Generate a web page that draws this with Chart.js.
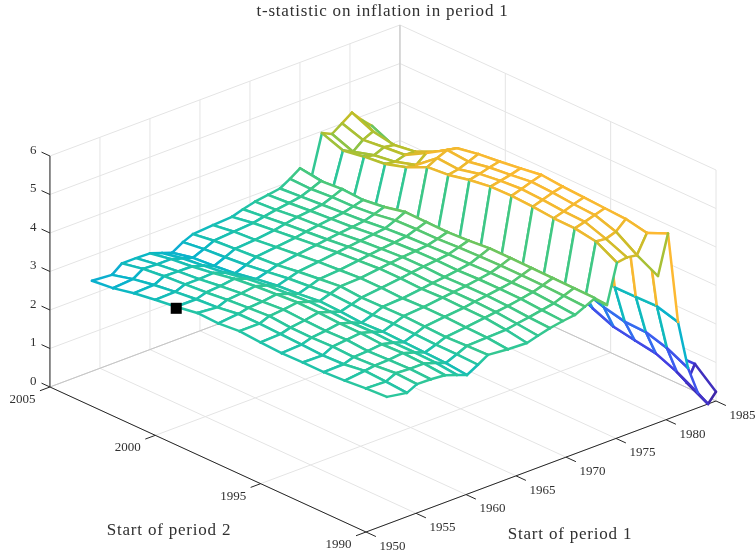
<!DOCTYPE html>
<html>
<head>
<meta charset="utf-8">
<title>t-statistic on inflation in period 1</title>
<script src="https://cdn.jsdelivr.net/npm/chart.js@4"></script>
<style>
  html, body { margin: 0; padding: 0; background: #fff; }
  canvas { display: block; }
</style>
</head>
<body>
<canvas id="chart" width="756" height="552"></canvas>
<script>
// start of period 1 for each mesh row (rows are not evenly spaced)
const period1 = [1954.2, 1956.2, 1957.2, 1958.6, 1960, 1961.2, 1962.2, 1963.3, 1964.3, 1966.3, 1968.2,
                 1969.3, 1970.5, 1971.8, 1973, 1974, 1975, 1976.2,
                 1977.2, 1978.2, 1979.2, 1980.2, 1981.2, 1982.2, 1983.2, 1984.2, 1985];
// start of period 2 for each mesh column
const period2 = [1990, 1991, 1992, 1993, 1994, 1995, 1996, 1997, 1998, 1999, 2000, 2001, 2002, 2003, 2004, 2005];

// t-statistic, one array per period 1 row, columns follow period2
const row1954 = [null, 2.85, 2.82, 2.77, 2.74, 2.74, 2.73, 2.76, 2.80, 2.75, 2.77, 2.68, 2.61, 2.53, 2.41, 2.35];
const row1956 = [null, 2.76, 2.80, 2.83, 2.75, 2.73, 2.76, 2.78, 2.80, 2.80, 2.72, 2.68, 2.62, 2.55, 2.45, 2.31];
const row1957 = [null, 2.89, 2.92, 2.87, 2.84, 2.86, 2.84, 2.85, 2.90, 2.86, 2.82, 2.76, 2.72, 2.68, 2.62, 2.51];
const row1958 = [null, 2.88, 2.90, 2.88, 2.86, 2.90, 2.88, 2.90, 2.93, 2.89, 2.85, 2.79, 2.72, 2.67, 2.60, 2.51];
const row1960 = [null, 2.85, 2.90, 2.92, 2.90, 2.94, 2.94, 2.97, 2.98, 2.94, 2.90, 2.84, 2.74, 2.66, 2.60, 2.50];
const row1961 = [null, 2.74, 2.80, 2.82, 2.82, 2.85, 2.84, 2.87, 2.88, 2.84, 2.80, 2.73, 2.63, 2.56, 2.50, 2.39];
const row1962 = [null, 2.64, 2.70, 2.72, 2.74, 2.76, 2.74, 2.78, 2.80, 2.74, 2.70, 2.62, 2.52, 2.46, 2.42, 2.30];
const row1963 = [null, 2.80, 2.82, 2.82, 2.84, 2.86, 2.84, 2.86, 2.89, 2.83, 2.78, 2.70, 2.63, 2.58, 2.54, 2.47];
const row1964 = [null, 2.96, 2.94, 2.92, 2.94, 2.96, 2.95, 2.94, 2.98, 2.92, 2.86, 2.78, 2.74, 2.70, 2.66, 2.58];
const row1966 = [null, 2.91, 2.96, 2.98, 3.00, 3.00, 2.98, 3.00, 3.00, 2.96, 2.92, 2.86, 2.80, 2.74, 2.70, 2.62];
const row1968 = [null, 2.89, 2.98, 3.04, 3.05, 3.06, 3.04, 3.06, 3.06, 3.02, 2.98, 2.92, 2.86, 2.80, 2.74, 2.65];
const row1969 = [null, 2.97, 3.03, 3.08, 3.10, 3.10, 3.08, 3.10, 3.10, 3.06, 3.02, 2.96, 2.91, 2.86, 2.80, 2.74];
const row1970 = [null, 3.05, 3.08, 3.12, 3.14, 3.14, 3.12, 3.14, 3.14, 3.10, 3.06, 3.00, 2.96, 2.92, 2.86, 2.82];
const row1971 = [null, 3.11, 3.14, 3.18, 3.19, 3.19, 3.17, 3.18, 3.17, 3.14, 3.10, 3.04, 3.00, 2.96, 2.91, 2.87];
const row1973 = [null, 3.15, 3.20, 3.24, 3.24, 3.24, 3.22, 3.22, 3.20, 3.18, 3.14, 3.08, 3.04, 3.00, 2.96, 2.92];
const row1974 = [null, 3.27, 3.30, 3.32, 3.33, 3.33, 3.32, 3.30, 3.27, 3.27, 3.25, 3.16, 3.11, 3.10, 3.06, 3.07];
const row1975 = [null, 3.39, 3.40, 3.41, 3.42, 3.43, 3.43, 3.38, 3.35, 3.36, 3.37, 3.25, 3.18, 3.21, 3.17, 3.25];
const row1976 = [null, 3.10, 3.10, 3.11, 3.12, 3.13, 3.13, 3.08, 3.05, 3.06, 3.07, 2.95, 2.88, 2.91, 2.87, 2.95];
const row1977 = [null, 4.10, 4.40, 4.49, 4.50, 4.55, 4.58, 4.57, 4.49, 4.37, 4.32, 4.07, 3.90, 3.84, 3.75, 3.95];
const row1978 = [null, 4.14, 4.37, 4.56, 4.58, 4.63, 4.66, 4.62, 4.55, 4.42, 4.46, 4.03, 3.86, 3.78, 3.62, 3.83];
const row1979 = [3.81, 4.10, 4.46, 4.64, 4.67, 4.72, 4.75, 4.68, 4.62, 4.52, 4.57, 4.24, 3.94, 3.89, 3.83, 4.01];
const row1980 = [4.82, 4.58, 4.69, 4.72, 4.75, 4.78, 4.83, 4.75, 4.68, 4.62, 4.52, 4.18, 3.93, 3.85, 3.95, 4.19];
const row1981 = [2.42, 2.58, 2.57, 2.57, 2.70, 2.90, 3.10, 3.30, 3.50, 3.60, 3.70, 3.70, 3.60, 3.60, 3.60, 3.90];
const row1982 = [1.13, 1.40, 1.56, 1.58, 1.71, 1.90, 2.20, 2.50, 2.80, 3.00, 3.20, 3.30, 3.30, 3.30, 3.40, 3.65];
const row1983 = [0.38, 0.68, 0.91, 1.00, 1.10, 1.33, 1.60, 1.90, 2.20, 2.50, 2.80, 3.00, 3.10, 3.10, 3.10, 3.10];
const row1984 = [0.00, 0.30, 0.75, 0.85, 0.95, 1.05, 1.30, 1.60, 1.90, 2.20, 2.50, 2.70, 2.80, 2.90, 2.90, 2.90];
const row1985 = [0.24, 0.71, 0.70, 0.85, 0.87, 0.85, 1.20, 1.50, 1.80, 2.10, 2.40, 2.60, 2.70, 2.80, 2.80, 2.80];
const surface = [row1954, row1956, row1957, row1958, row1960, row1961, row1962, row1963, row1964, row1966,
                 row1968, row1969, row1970, row1971, row1973, row1974, row1975, row1976,
                 row1977, row1978, row1979, row1980, row1981, row1982, row1983, row1984, row1985];

// the black marker on the surface: period 1, period 2, t-statistic
const markerPoint = [1954.2, 2001, 2.64];

const period1Ticks = [1950, 1955, 1960, 1965, 1970, 1975, 1980, 1985];
const period2Ticks = [1990, 1995, 2000, 2005];
const zTicks = [0, 1, 2, 3, 4, 5, 6];

const titleText = 't-statistic on inflation in period 1';
const period1Label = 'Start of period 1';
const period2Label = 'Start of period 2';

// fixed 3d view: front corner of the box and how far one unit moves on screen
const view = { x0: 366, y0: 532, p1x: 10, p1y: -3.743, p2x: -21.07, p2y: -9.667, zy: -38.5 };

function project(p1, p2, z) {
  const a = p1 - 1950, b = p2 - 1990;
  return { x: view.x0 + a * view.p1x + b * view.p2x, y: view.y0 + a * view.p1y + b * view.p2y + z * view.zy };
}

// parula-like colour ramp, position runs over 0..cMax
const cMax = 5.3;
const ramp = [
  [0, 62, 38, 168], [0.12, 68, 62, 225], [0.28, 58, 98, 242], [0.38, 20, 160, 225], [0.47, 8, 182, 200],
  [0.53, 40, 198, 160], [0.6, 70, 200, 125], [0.68, 140, 195, 70], [0.75, 190, 190, 40],
  [0.82, 235, 185, 45], [0.91, 253, 185, 50], [1, 250, 250, 15]
];

function colorFor(z) {
  const t = Math.min(1, Math.max(0, z / cMax));
  for (let i = 1; i < ramp.length; i++) {
    if (t <= ramp[i][0]) {
      const a = ramp[i - 1], b = ramp[i], k = (t - a[0]) / (b[0] - a[0]);
      return 'rgb(' + [1, 2, 3].map(c => Math.round(a[c] + (b[c] - a[c]) * k)).join(',') + ')';
    }
  }
  return 'rgb(250,250,15)';
}

// painted back to front: first element ends up underneath
const layers = [];

function addLine(a, b, color, width) {
  layers.push({
    data: [a, b], showLine: true, borderColor: color, borderWidth: width || 1,
    pointRadius: 0, fill: false, tension: 0, clip: false
  });
}

const p1Min = period1Ticks[0], p1Max = period1Ticks[period1Ticks.length - 1];
const p2Min = period2Ticks[0], p2Max = period2Ticks[period2Ticks.length - 1];
const zMax = zTicks[zTicks.length - 1];
const gridColor = '#e4e4e4';
const boxColor = '#c4c4c4';
const axisColor = '#262626';

// floor and the two back walls
period1Ticks.forEach(p => {
  addLine(project(p, p2Min, 0), project(p, p2Max, 0), gridColor);
  addLine(project(p, p2Max, 0), project(p, p2Max, zMax), gridColor);
});
period2Ticks.forEach(p => {
  addLine(project(p1Min, p, 0), project(p1Max, p, 0), gridColor);
  addLine(project(p1Max, p, 0), project(p1Max, p, zMax), gridColor);
});
zTicks.forEach(z => {
  addLine(project(p1Min, p2Max, z), project(p1Max, p2Max, z), gridColor);
  addLine(project(p1Max, p2Max, z), project(p1Max, p2Min, z), gridColor);
});
addLine(project(p1Min, p2Max, 0), project(p1Max, p2Max, 0), boxColor);
addLine(project(p1Max, p2Max, 0), project(p1Max, p2Min, 0), boxColor);
addLine(project(p1Max, p2Max, 0), project(p1Max, p2Max, zMax), boxColor);

// axis lines and ticks
addLine(project(p1Min, p2Max, 0), project(p1Min, p2Max, zMax), axisColor);
addLine(project(p1Min, p2Max, 0), project(p1Min, p2Min, 0), axisColor);
addLine(project(p1Min, p2Min, 0), project(p1Max, p2Min, 0), axisColor);
period1Ticks.forEach(p => addLine(project(p, p2Min, 0), project(p, p2Min - 0.47, 0), axisColor));
period2Ticks.forEach(p => addLine(project(p1Min, p, 0), project(p1Min - 1, p, 0), axisColor));
zTicks.forEach(z => addLine(project(p1Min, p2Max, z), project(p1Min, p2Max + 0.4, z), axisColor));

// mesh cells, far corner first: a white face hides what lies behind, then its coloured edges
for (let i = period1.length - 2; i >= 0; i--) {
  for (let j = period2.length - 2; j >= 0; j--) {
    const zA = surface[i][j], zB = surface[i][j + 1], zC = surface[i + 1][j + 1], zD = surface[i + 1][j];
    if (zA === null || zB === null || zC === null || zD === null) continue;
    const A = project(period1[i], period2[j], zA);
    const B = project(period1[i], period2[j + 1], zB);
    const C = project(period1[i + 1], period2[j + 1], zC);
    const D = project(period1[i + 1], period2[j], zD);
    layers.push({
      data: [A, B, C, D, A], showLine: true, tension: 0, clip: false,
      pointRadius: 0, borderWidth: 0, borderColor: '#ffffff',
      backgroundColor: '#ffffff', fill: 'shape'
    });
    // edge takes the colour of its lower index vertex
    const edgeColors = [colorFor(zA), colorFor(zB), colorFor(zD), colorFor(zA)];
    layers.push({
      data: [A, B, C, D, A], showLine: true, tension: 0, clip: false,
      pointRadius: 0, borderWidth: 2.5, borderColor: edgeColors[0], fill: false,
      borderJoinStyle: 'round', borderCapStyle: 'round',
      segment: { borderColor: ctx => edgeColors[ctx.p0DataIndex] }
    });
  }
}

layers.push({
  data: [project(markerPoint[0], markerPoint[1], markerPoint[2])],
  showLine: false, pointStyle: 'rect', pointRadius: 7.8, pointHoverRadius: 7.8,
  pointBackgroundColor: '#000', pointBorderWidth: 0, clip: false
});

// tick labels and titles are placed from the same projection
const textPlugin = {
  id: 'meshText',
  afterDraw(chart) {
    const c = chart.ctx, sx = chart.scales.x, sy = chart.scales.y;
    const put = (txt, x, y, font, align, spacing) => {
      c.font = font;
      c.letterSpacing = spacing || '0px';
      c.fillStyle = '#303030';
      c.textAlign = align || 'center';
      c.textBaseline = 'middle';
      c.fillText(txt, sx.getPixelForValue(x), sy.getPixelForValue(y));
    };
    const tickFont = '13px "Liberation Serif"';
    zTicks.forEach(z => {
      const p = project(p1Min, p2Max, z);
      put(String(z), p.x - 13.5, p.y - 5.5, tickFont, 'right');
    });
    period2Ticks.forEach(v => {
      const p = project(p1Min, v, 0);
      put(String(v), p.x - 27.5, p.y + 12.7, tickFont);
    });
    period1Ticks.forEach(v => {
      const p = project(v, p2Min, 0);
      put(String(v), p.x + 26.5, p.y + 14.5, tickFont);
    });
    put(titleText, 382.5, 12, '17px "Liberation Serif"', 'center', '0.8px');
    put(period2Label, 169, 531, '17px "Liberation Serif"', 'center', '0.8px');
    put(period1Label, 570, 535, '17px "Liberation Serif"', 'center', '0.8px');
  }
};

new Chart(document.getElementById('chart').getContext('2d'), {
  type: 'scatter',
  data: { datasets: layers.reverse() },
  plugins: [textPlugin],
  options: {
    responsive: false,
    animation: false,
    layout: { padding: 0, autoPadding: false },
    plugins: { legend: { display: false }, tooltip: { enabled: false } },
    scales: {
      x: { type: 'linear', min: 0, max: 756, display: false },
      y: { type: 'linear', min: 0, max: 552, reverse: true, display: false }
    }
  }
});
</script>
</body>
</html>
